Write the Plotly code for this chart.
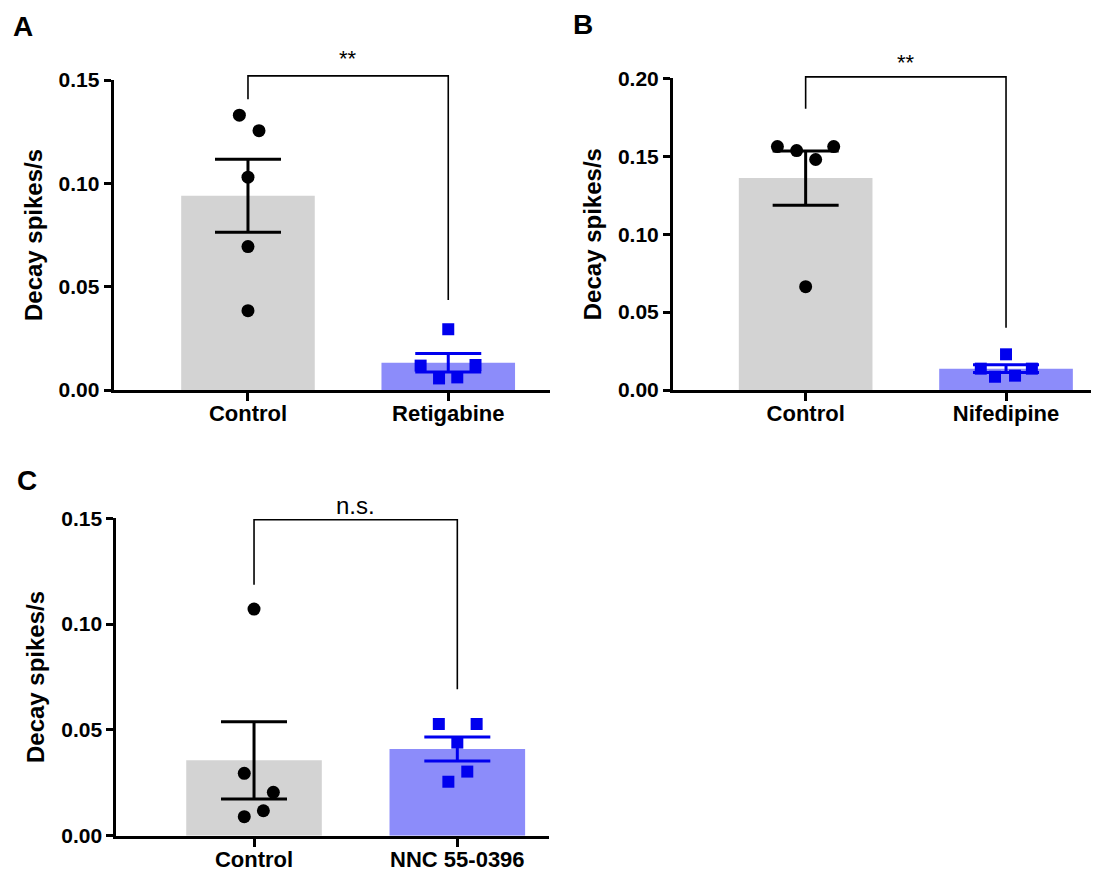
import plotly.graph_objects as go

# ---------------- data ----------------
panel_letters = ["A", "B", "C"]
categories_A = ["Control", "Retigabine"]
categories_B = ["Control", "Nifedipine"]
categories_C = ["Control", "NNC 55-0396"]

means_A = [0.094, 0.0132]
sems_A = [0.0177, 0.0045]
ctrl_points_A = [0.133, 0.1255, 0.103, 0.0694, 0.0384]
drug_points_A = [0.0294, 0.0118, 0.0121, 0.0056, 0.0061]

means_B = [0.136, 0.0137]
sems_B = [0.0174, 0.0025]
ctrl_points_B = [0.1562, 0.1536, 0.1479, 0.1562, 0.0663]
drug_points_B = [0.0229, 0.0137, 0.0137, 0.0085, 0.0092]

means_C = [0.0356, 0.041]
sems_C = [0.0182, 0.0057]
ctrl_points_C = [0.1071, 0.0295, 0.0205, 0.0118, 0.009]
drug_points_C = [0.0528, 0.0528, 0.044, 0.0303, 0.0255]

sig_labels = ["**", "**", "n.s."]
y_max = [0.15, 0.20, 0.15]
y_title = "Decay spikes/s"

# ---------------- style / layout ----------------
W, H = 1099, 874
OFF = 8  # page body margin in the browser
GRAY = "#D3D3D3"
LIGHT_BLUE = "#8C8CFA"
BLUE = "#0000EE"
FONT = "Arial, Liberation Sans, sans-serif"


def px_x(v):
    return (v - OFF) / W


def px_y(v):
    return 1 - (v - OFF) / H


# horizontal scatter offsets of the individual points (layout only)
jit_ctrl = {"A": [-0.043, 0.055, 0, 0, 0],
            "B": [-0.141, -0.045, 0.05, 0.14, 0],
            "C": [0, -0.048, 0.095, 0.046, -0.048]}
jit_drug = {"A": [0, -0.138, 0.136, -0.046, 0.045],
            "B": [0, -0.126, 0.129, -0.055, 0.045],
            "C": [-0.091, 0.095, 0, 0.049, -0.044]}

# bracket: (top, left arm end, right arm end) in data units
brackets = {"A": (0.152, 0.1407, 0.0436),
            "B": (0.2009, 0.1804, 0.040),
            "C": (0.1493, 0.1186, 0.0692)}
sig_y_dom = {"A": 1.07, "B": 1.052, "C": 1.039}

panels = [
    ("A", categories_A, means_A, sems_A, ctrl_points_A, drug_points_A,
     (113.6, 550), (80, 390), [-0.671, 1.508]),
    ("B", categories_B, means_B, sems_B, ctrl_points_B, drug_points_B,
     (673, 1098), (78.3, 390), [-0.662, 1.459]),
    ("C", categories_C, means_C, sems_C, ctrl_points_C, drug_points_C,
     (116.4, 549), (518.3, 835.7), [-0.677, 1.451]),
]

fig = go.Figure()
layout = dict(
    width=W, height=H,
    margin=dict(l=0, r=0, t=0, b=0, pad=0),
    paper_bgcolor="white", plot_bgcolor="white",
    showlegend=False,
    font=dict(family=FONT, color="black"),
)
shapes = []
annotations = []
BAR_W = 0.667

for i, (key, cats, means, sems, cpts, dpts, xpx, ypx, xr) in enumerate(panels):
    n = "" if i == 0 else str(i + 1)
    xa, ya = "x" + n, "y" + n
    fig.add_trace(go.Bar(x=[0], y=[means[0]], width=BAR_W, marker_color=GRAY,
                         marker_line_width=0,
                         error_y=dict(type="data", array=[sems[0]], color="black",
                                      thickness=3, width=33),
                         xaxis=xa, yaxis=ya))
    fig.add_trace(go.Bar(x=[1], y=[means[1]], width=BAR_W, marker_color=LIGHT_BLUE,
                         marker_line_width=0,
                         error_y=dict(type="data", array=[sems[1]], color=BLUE,
                                      thickness=3, width=33),
                         xaxis=xa, yaxis=ya))
    fig.add_trace(go.Scatter(x=[0 + o for o in jit_ctrl[key]], y=cpts, mode="markers",
                             marker=dict(symbol="circle", size=13, color="black"),
                             cliponaxis=False, xaxis=xa, yaxis=ya))
    fig.add_trace(go.Scatter(x=[1 + o for o in jit_drug[key]], y=dpts, mode="markers",
                             marker=dict(symbol="square", size=12, color=BLUE),
                             cliponaxis=False, xaxis=xa, yaxis=ya))

    layout["xaxis" + n] = dict(
        domain=[px_x(xpx[0]), px_x(xpx[1])], range=xr, anchor=ya,
        tickvals=[0, 1], ticktext=cats, automargin=False,
        tickfont=dict(family=FONT, size=22, color="black", weight="bold"),
        ticklabelstandoff=-6,
        showline=True, linewidth=3, linecolor="black",
        ticks="outside", ticklen=8, tickwidth=3, tickcolor="black",
        showgrid=False, zeroline=False, fixedrange=True,
    )
    layout["yaxis" + n] = dict(
        domain=[px_y(ypx[1]), px_y(ypx[0])], range=[0, y_max[i]], anchor=xa,
        dtick=0.05, tickformat=".2f", automargin=False,
        tickfont=dict(family=FONT, size=21, color="black", weight="bold"),
        showline=True, linewidth=3, linecolor="black",
        ticks="outside", ticklen=7, tickwidth=3, tickcolor="black",
        showgrid=False, zeroline=False, fixedrange=True,
        title=dict(text=y_title, standoff=10,
                   font=dict(family=FONT, size=24, color="black", weight="bold")),
    )

    top, left_end, right_end = brackets[key]
    ym = y_max[i]
    shapes.append(dict(
        type="path", xref=xa, yref=ya + " domain",
        path=f"M 0 {left_end / ym} L 0 {top / ym} L 1 {top / ym} L 1 {right_end / ym}",
        line=dict(color="black", width=1.6),
    ))
    annotations.append(dict(
        text=sig_labels[i], xref=xa, yref=ya + " domain", x=0.5, y=sig_y_dom[key],
        xanchor="center", yanchor="middle", showarrow=False,
        font=dict(family=FONT, size=22 if key != "C" else 24, color="black"),
    ))

letter_pos = [(23, 26), (583, 25), (27, 480)]
for letter, (px, py) in zip(panel_letters, letter_pos):
    annotations.append(dict(
        text=letter, xref="paper", yref="paper", x=px_x(px), y=px_y(py),
        xanchor="center", yanchor="middle", showarrow=False,
        font=dict(family=FONT, size=28, color="black", weight="bold"),
    ))

layout["shapes"] = shapes
layout["annotations"] = annotations
fig.update_layout(**layout)
fig.write_html("out.html")
